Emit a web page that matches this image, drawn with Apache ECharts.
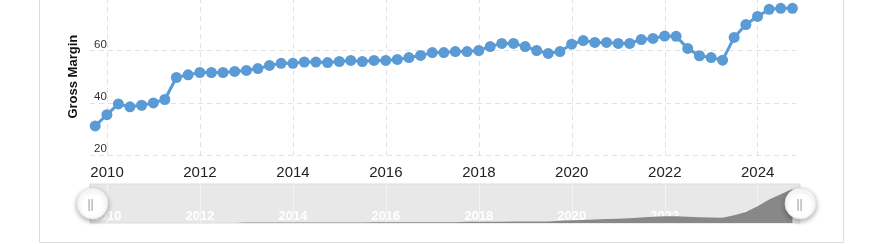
<!DOCTYPE html>
<html><head><meta charset="utf-8">
<script src="https://cdn.jsdelivr.net/npm/echarts@6/dist/echarts.min.js"></script>
<style>html,body{margin:0;padding:0;background:#fff}#c{width:870px;height:244px}</style>
</head><body><div id="c"></div>
<script>
// Quarter-end dates
var dates = ['2009-09-30','2009-12-31',
'2010-03-31','2010-06-30','2010-09-30','2010-12-31',
'2011-03-31','2011-06-30','2011-09-30','2011-12-31',
'2012-03-31','2012-06-30','2012-09-30','2012-12-31',
'2013-03-31','2013-06-30','2013-09-30','2013-12-31',
'2014-03-31','2014-06-30','2014-09-30','2014-12-31',
'2015-03-31','2015-06-30','2015-09-30','2015-12-31',
'2016-03-31','2016-06-30','2016-09-30','2016-12-31',
'2017-03-31','2017-06-30','2017-09-30','2017-12-31',
'2018-03-31','2018-06-30','2018-09-30','2018-12-31',
'2019-03-31','2019-06-30','2019-09-30','2019-12-31',
'2020-03-31','2020-06-30','2020-09-30','2020-12-31',
'2021-03-31','2021-06-30','2021-09-30','2021-12-31',
'2022-03-31','2022-06-30','2022-09-30','2022-12-31',
'2023-03-31','2023-06-30','2023-09-30','2023-12-31',
'2024-03-31','2024-06-30','2024-09-30'];
// Gross margin (%)
var grossMargin = [31.2,35.5,
39.6,38.5,39.1,40.0,
41.3,49.7,50.7,51.6,
51.6,51.6,52.0,52.4,
53.1,54.3,55.1,55.1,
55.6,55.6,55.4,55.8,
56.2,55.8,56.2,56.2,
56.6,57.3,58.1,59.2,
59.2,59.6,59.6,60.0,
61.5,62.7,62.7,61.5,
60.0,58.9,59.6,62.4,
63.8,63.1,63.1,62.7,
62.7,64.2,64.6,65.5,
65.4,60.8,58.0,57.3,
56.3,65.0,69.9,73.0,
75.7,76.1,76.1];
// Navigator shadow series (relative height, 0-100)
var navigatorShadow = [0,0,
0,0,0,0,
0,0,0,0,
0,0,0,1,
1,1,1,1,
1,1,1,1,
1,1,2,2,
2,2,2,2,
2,2,3,3,
3,3,4,4,
4,4,6,7,
8,9,10,11,
12,14,16,17,
17,16,15,14,
13.5,20,28,43,
60,74,87];
var tickYears = [2010,2012,2014,2016,2018,2020,2022,2024];

function ts(s){var p=s.split('-');return Date.UTC(+p[0],+p[1]-1,+p[2]);}
var mainData = dates.map(function(d,i){return [ts(d), grossMargin[i]];});
var shadowData = dates.map(function(d,i){return [ts(d), navigatorShadow[i]];});
var tickVals = tickYears.map(function(y){return Date.UTC(y,0,1);});
var xMin = Date.UTC(2009,7,20), xMax = Date.UTC(2024,9,28);
var xMax2 = xMax + (xMax - xMin) * 4 / 706;
var yearFmt = function(v){return String(new Date(v).getUTCFullYear());};

var chart = echarts.init(document.getElementById('c'), null, {renderer:'canvas'});
chart.setOption({
  animation:false,
  backgroundColor:'#fff',
  grid:[
    {left:90, right:74, top:-1.9, bottom:88.7, outerBoundsMode:'none', containLabel:false},
    {left:90, right:70, top:184, height:39, outerBoundsMode:'none', containLabel:false, show:true, backgroundColor:'#e8e8e8', borderColor:'#dcdcdc', borderWidth:1}
  ],
  xAxis:[
    {type:'value', gridIndex:0, min:xMin, max:xMax,
     axisLine:{show:false},
     axisTick:{show:false, customValues:tickVals},
     axisLabel:{customValues:tickVals, formatter:yearFmt, color:'#222', fontSize:15, fontFamily:'Liberation Sans', margin:10},
     splitLine:{show:true, lineStyle:{color:'#e2e2e2', type:[5,4], width:1}}},
    {type:'value', gridIndex:1, min:xMin, max:xMax2,
     axisLine:{show:false},
     axisTick:{show:false, customValues:tickVals},
     axisLabel:{customValues:tickVals, formatter:yearFmt, inside:true, color:'#fff', fontWeight:'bold', fontSize:13, fontFamily:'Liberation Sans', margin:0},
     splitLine:{show:true, lineStyle:{color:'#f3f3f3', width:1}}}
  ],
  yAxis:[
    {type:'value', gridIndex:0, min:20, max:80, interval:20,
     name:'Gross Margin', nameLocation:'middle', nameGap:10,
     nameTextStyle:{fontWeight:'bold', fontSize:13, color:'#111', fontFamily:'Liberation Sans'},
     axisLine:{show:false}, axisTick:{show:false},
     axisLabel:{inside:true, margin:4, verticalAlign:'bottom', color:'#333', fontSize:11.5, fontFamily:'Liberation Sans', lineHeight:12},
     splitLine:{show:true, lineStyle:{color:'#e2e2e2', type:[5,4], width:1}}},
    {type:'value', gridIndex:1, min:0, max:100, show:false, splitLine:{show:false}}
  ],
  dataZoom:[{
    type:'slider', xAxisIndex:1, filterMode:'none', start:0, end:100,
    left:90, right:70, top:184, height:39,
    backgroundColor:'rgba(0,0,0,0)', borderColor:'rgba(0,0,0,0)',
    fillerColor:'rgba(0,0,0,0)', showDataShadow:false, showDetail:false,
    brushSelect:false, moveHandleSize:0,
    handleIcon:'circle', handleSize:31,
    handleStyle:{color:'#fff', borderColor:'#e4e4e4', borderWidth:1, shadowBlur:5, shadowColor:'rgba(0,0,0,0.3)', shadowOffsetY:2},
    emphasis:{handleStyle:{color:'#fff', borderColor:'#e4e4e4', borderWidth:1, shadowBlur:5, shadowColor:'rgba(0,0,0,0.3)', shadowOffsetY:2}},
    dataBackground:{lineStyle:{opacity:0}, areaStyle:{opacity:0}},
    selectedDataBackground:{lineStyle:{opacity:0}, areaStyle:{opacity:0}}
  }],
  graphic:[
    {type:'rect', z:-10, shape:{x:39.5, y:-5, width:804, height:247.5}, style:{fill:'none', stroke:'#dcdcdc', lineWidth:1}, silent:true},
    {type:'text', z:100, x:90.5, y:205, style:{text:'||', fill:'#999', font:'12px "Liberation Sans"', align:'center', verticalAlign:'middle'}},
    {type:'text', z:100, x:799.5, y:205, style:{text:'||', fill:'#999', font:'12px "Liberation Sans"', align:'center', verticalAlign:'middle'}}
  ],
  series:[
    {type:'line', xAxisIndex:0, yAxisIndex:0, data:mainData,
     symbol:'circle', symbolSize:11, showSymbol:true,
     lineStyle:{color:'#5b9bd5', width:3}, itemStyle:{color:'#5b9bd5'}},
    {type:'line', xAxisIndex:1, yAxisIndex:1, data:shadowData, silent:true,
     symbol:'none', lineStyle:{width:0}, areaStyle:{color:'#888', opacity:1}}
  ]
});
</script></body></html>
